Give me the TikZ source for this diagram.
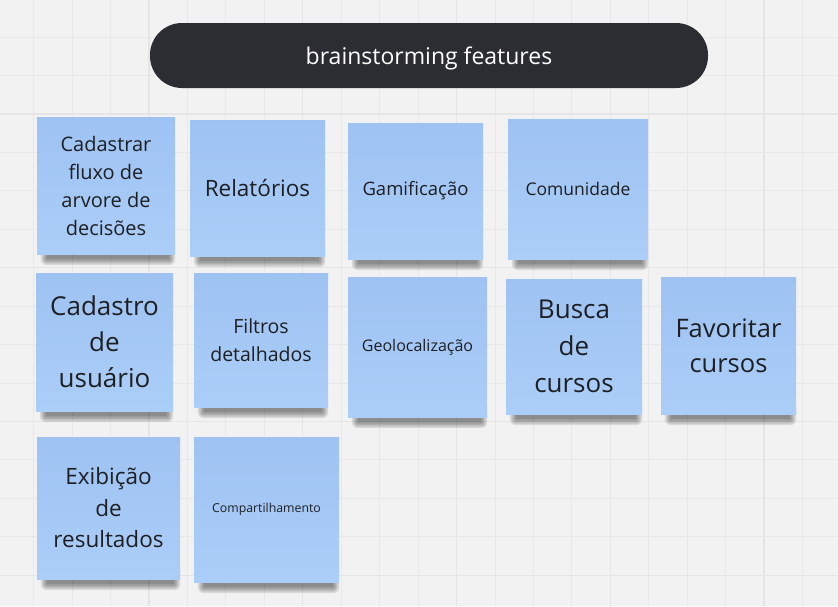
\documentclass[tikz,border=0pt]{standalone}
\usepackage{fontspec}
\setmainfont{Open Sans}

\definecolor{boardbg}{HTML}{F2F2F2}
\definecolor{gridminor}{HTML}{E8E8E8}
\definecolor{gridmajor}{HTML}{E5E5E5}
\definecolor{pillfill}{HTML}{2C2D32}
\definecolor{notetop}{HTML}{9EC2F2}
\definecolor{notebot}{HTML}{ABCEF8}
\definecolor{notetext}{HTML}{1E1F22}

\pgfdeclarelayer{board}
\pgfdeclarelayer{background}
\pgfsetlayers{board,background,main}

\tikzset{
  sticky/.style={rectangle, inner sep=0pt, align=center, text=notetext,
    top color=notetop, bottom color=notebot},
  notesize/.style 2 args={minimum width=#1pt, minimum height=#2pt},
  noteshadow/.style={fill=black, fill opacity=0.1, rounded corners=#1pt},
  pill/.style={rectangle, rounded corners=32pt, fill=pillfill, text=white,
    minimum width=558pt, minimum height=65pt, text height=17pt, text depth=0pt,
    font=\fontsize{23}{27}\selectfont},
}

\begin{document}
\begin{tikzpicture}[x=1pt, y=-1pt]
   % Sizes
   \pgfmathsetmacro{\cell}{38.45}
   \pgfmathsetmacro{\gx}{33.6}
   \pgfmathsetmacro{\gy}{37}

   % board and grid
   \begin{pgfonlayer}{board}
     \useasboundingbox (0,0) rectangle (838,606);
     \fill[boardbg] (0,0) rectangle (838,606);
     \foreach \i in {0,...,20}
       \draw[gridminor, line width=1pt] ({\gx+\cell*\i},0) -- ({\gx+\cell*\i},606);
     \foreach \j in {0,...,14}
       \draw[gridminor, line width=1pt] (0,{\gy+\cell*\j}) -- (838,{\gy+\cell*\j});
     \foreach \i in {3,7,11,15,19}
       \draw[gridmajor, line width=1.4pt] ({\gx+\cell*\i},0) -- ({\gx+\cell*\i},606);
     \foreach \j in {2,6,10,14}
       \draw[gridmajor, line width=1.4pt] (0,{\gy+\cell*\j}) -- (838,{\gy+\cell*\j});
   \end{pgfonlayer}

   % title
   \node[pill] (title) at (429,55.5) {brainstorming features};

   % first row
   \node[sticky, notesize={138}{137}, font=\fontsize{20}{28}\selectfont]
     (fluxo) at (106,185.5) {Cadastrar\\fluxo de\\arvore de\\decisões};
   \node[sticky, notesize={135}{136}, font=\fontsize{22.5}{30}\selectfont]
     (relatorios) at (257.5,188) {Relatórios};
   \node[sticky, notesize={135}{136}, font=\fontsize{18.5}{24}\selectfont]
     (gamificacao) at (415.5,191) {Gamificação};
   \node[sticky, notesize={140}{140}, font=\fontsize{17.5}{24}\selectfont]
     (comunidade) at (578,189) {Comunidade};

   % second row
   \node[sticky, notesize={137}{138}, font=\fontsize{26}{36}\selectfont]
     (cadastro) at (104.5,342) {Cadastro\\de\\usuário};
   \node[sticky, notesize={134}{134}, font=\fontsize{19.5}{28}\selectfont]
     (filtros) at (261,340) {Filtros\\detalhados};
   \node[sticky, notesize={139}{140}, font=\fontsize{16}{22}\selectfont]
     (geoloc) at (417.5,347) {Geolocalização};
   \node[sticky, notesize={136}{135}, font=\fontsize{26}{37}\selectfont]
     (busca) at (574,346.5) {Busca\\de\\cursos};
   \node[sticky, notesize={135}{137}, font=\fontsize{25.5}{35}\selectfont]
     (favoritar) at (728.5,345.5) {Favoritar\\cursos};

   % third row
   \node[sticky, notesize={143}{142}, font=\fontsize{22.5}{31.5}\selectfont]
     (exibicao) at (108.5,508) {Exibição\\de\\resultados};
   \node[sticky, notesize={145}{145}, font=\fontsize{12.3}{16}\selectfont]
     (compart) at (266.5,509.5) {Compartilhamento};

   % shadows under the notes
   \begin{pgfonlayer}{background}
     \foreach \n in {fluxo,relatorios,gamificacao,comunidade,cadastro,filtros,
                     geoloc,busca,favoritar,exibicao,compart}
       \foreach \r in {0,1.5,3,4.5,6}
         \fill[noteshadow=\r]
           ([xshift={(10-\r)*1pt}, yshift={(10+\r)*1pt}]\n.south west) rectangle
           ([xshift={(-6+\r)*1pt}, yshift={(-5-\r)*1pt}]\n.south east);
   \end{pgfonlayer}
\end{tikzpicture}
\end{document}
